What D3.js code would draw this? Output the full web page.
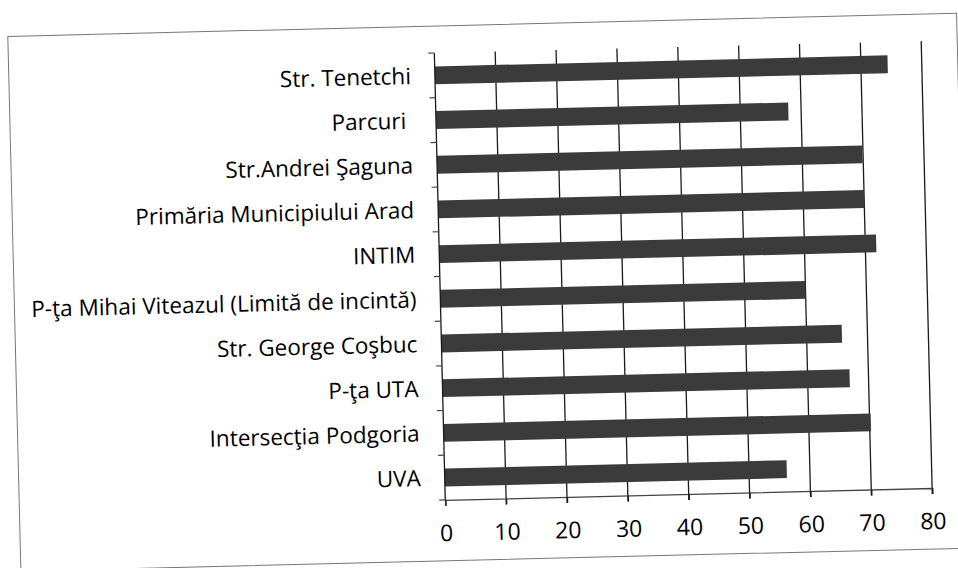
<!DOCTYPE html>
<html>
<head>
<meta charset="utf-8">
<style>
body { margin: 0; background: #fff; }
</style>
</head>

<body></body>

<script src="https://d3js.org/d3.v7.min.js"></script>

<script>

var categories = ["Str. Tenetchi", "Parcuri ", "Str.Andrei Şaguna", "Primăria Municipiului Arad", "INTIM",
	"P-ţa Mihai Viteazul (Limită de incintă)", "Str. George Coşbuc", "P-ţa UTA", "Intersecţia Podgoria", "UVA"];
var values = [74.4, 57.9, 69.9, 70, 71.8, 60, 65.8, 66.9, 70.2, 56.2];
var xTicks = [0, 10, 20, 30, 40, 50, 60, 70, 80];

var margin = { top: 52, right: 31, bottom: 69, left: 440 }
	, width = 958 - margin.left - margin.right
	, height = 568 - margin.top - margin.bottom;

var data = categories.map((c, i) => ({ name: c, value: values[i] }));

var xScale = d3.scaleLinear()
	.domain([0, 80])
	.range([0, width]);

var yScale = d3.scaleBand()
	.domain(categories)
	.range([0, height])
	.paddingInner(0.6)
	.paddingOuter(0.3);

var svg = d3.select("body").append("svg")
	.attr("width", 958)
	.attr("height", 568);

// the scanned page sits a little crooked
var page = svg.append("g")
	.attr("transform", "rotate(-1.4, 479, 284)");

page.append("rect")
	.attr("x", 14)
	.attr("y", 25)
	.attr("width", 949)
	.attr("height", 535)
	.attr("fill", "#fff")
	.attr("stroke", "#777")
	.attr("stroke-width", 1);

var g = page.append("g")
	.attr("transform", "translate(" + margin.left + "," + margin.top + ")");

// gridlines
g.append("g").selectAll("line")
	.data(xTicks.slice(1))
	.enter().append("line")
	.attr("x1", d => xScale(d))
	.attr("x2", d => xScale(d))
	.attr("y1", 0)
	.attr("y2", height + 6)
	.attr("stroke", "#1a1a1a")
	.attr("stroke-width", 1.3);

// bars
g.append("g").selectAll("rect")
	.data(data)
	.enter().append("rect")
	.attr("x", 0)
	.attr("y", d => yScale(d.name))
	.attr("width", d => xScale(d.value))
	.attr("height", yScale.bandwidth())
	.attr("fill", "#3b3b3b");

// x axis
var xAxis = g.append("g")
	.attr("transform", "translate(0," + height + ")")
	.call(d3.axisBottom(xScale).tickValues(xTicks).tickSize(6).tickPadding(19));
xAxis.select(".domain").attr("stroke", "#444").attr("stroke-width", 1.3);
xAxis.selectAll(".tick line").attr("stroke", "#1a1a1a").attr("stroke-width", 1.3);
xAxis.selectAll("text")
	.attr("font-family", "'Open Sans', sans-serif")
	.attr("font-size", 23)
	.attr("fill", "#000");

// y axis line and category boundary ticks
var bounds = d3.range(categories.length + 1).map(i => i * height / categories.length);
g.append("line")
	.attr("x1", 0).attr("x2", 0)
	.attr("y1", 0).attr("y2", height)
	.attr("stroke", "#1a1a1a")
	.attr("stroke-width", 1.3);
g.append("g").selectAll("line")
	.data(bounds)
	.enter().append("line")
	.attr("x1", -6).attr("x2", 0)
	.attr("y1", d => d).attr("y2", d => d)
	.attr("stroke", "#444")
	.attr("stroke-width", 1.2);

// category labels
g.append("g").selectAll("text")
	.data(data)
	.enter().append("text")
	.attr("x", -24)
	.attr("y", d => yScale(d.name) + yScale.bandwidth() / 2)
	.attr("dy", "0.36em")
	.attr("text-anchor", "end")
	.attr("font-family", "'Open Sans', sans-serif")
	.attr("font-size", 22.5)
	.attr("fill", "#000")
	.style("white-space", "pre")
	.text(d => d.name);

</script>

</html>
